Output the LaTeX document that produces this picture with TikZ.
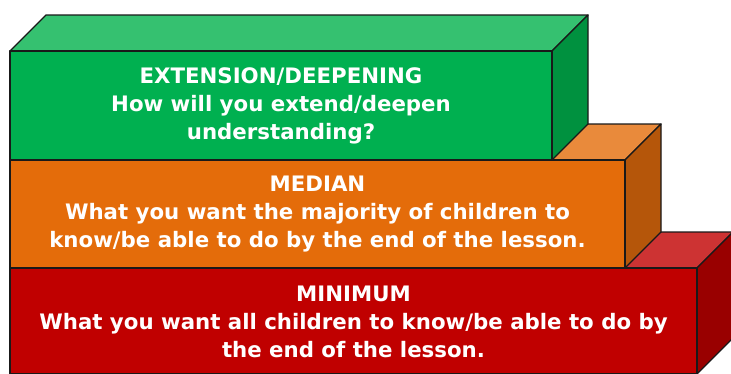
\documentclass[tikz,border=0pt]{standalone}
\usepackage{fontspec}
\setmainfont{DejaVu Sans}
\definecolor{gfront}{HTML}{00B050}
\definecolor{gtop}{HTML}{35C170}
\definecolor{gside}{HTML}{00913F}
\definecolor{ofront}{HTML}{E46C0A}
\definecolor{otop}{HTML}{E98A3B}
\definecolor{oside}{HTML}{B5560A}
\definecolor{rfront}{HTML}{C00000}
\definecolor{rtop}{HTML}{CD3333}
\definecolor{rside}{HTML}{990000}
\tikzset{
  edge/.style={draw=black!90, line width=1.3pt, line join=round},
  label/.style={text=white, align=center, font=\bfseries\fontsize{21.3}{28}\selectfont, inner sep=0pt}
}
\begin{document}
\begin{tikzpicture}[x=1pt,y=-1pt]
\useasboundingbox (0,0) rectangle (731,373);
\clip (0,0) rectangle (731,373);
% red box
\path[edge, fill=rtop] (10,268) -- (46,232) -- (733,232) -- (697,268) -- cycle;
\path[edge, fill=rside] (697,268) -- (733,232) -- (733,338) -- (697,374) -- cycle;
\path[edge, fill=rfront] (10,268) rectangle (697,374);
\node[label] (red) at (353.5,321.5) {MINIMUM\\What you want all children to know/be able to do by\\the end of the lesson.};
% orange box
\path[edge, fill=otop] (10,160) -- (46,124) -- (661,124) -- (625,160) -- cycle;
\path[edge, fill=oside] (625,160) -- (661,124) -- (661,232) -- (625,268) -- cycle;
\path[edge, fill=ofront] (10,160) rectangle (625,268);
\node[label] (orange) at (317.5,214) {MEDIAN\\What you want the majority of children to\\know/be able to do by the end of the lesson.};
% green box
\path[edge, fill=gtop] (10,51) -- (46,15) -- (588,15) -- (552,51) -- cycle;
\path[edge, fill=gside] (552,51) -- (588,15) -- (588,124) -- (552,160) -- cycle;
\path[edge, fill=gfront] (10,51) rectangle (552,160);
\node[label] (green) at (281,105.5) {EXTENSION/DEEPENING\\How will you extend/deepen\\understanding?};
\end{tikzpicture}
\end{document}
